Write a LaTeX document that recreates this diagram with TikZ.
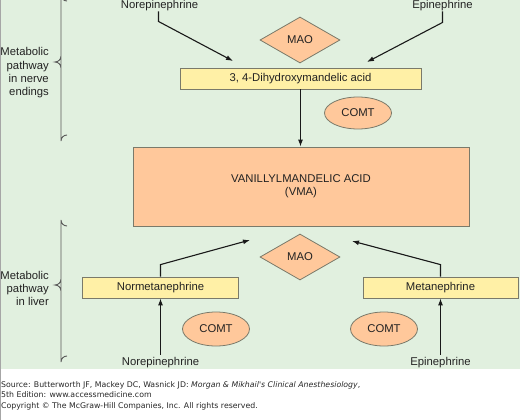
\documentclass[tikz,border=0pt]{standalone}
\usepackage{fontspec}
\setmainfont{Liberation Sans}
\newfontfamily\footfont{DejaVu Sans}
\usetikzlibrary{shapes.geometric,arrows.meta}
\definecolor{bggreen}{HTML}{E1F0DF}
\definecolor{boxyellow}{HTML}{FFF0A6}
\definecolor{boxorange}{HTML}{FFC89B}
\definecolor{edgegray}{HTML}{7A7A6A}
\definecolor{txt}{HTML}{222222}
\begin{document}
\begin{tikzpicture}[x=1pt,y=-1pt,
  every node/.style={font=\fontsize{11.3}{13.3}\selectfont, text=txt},
  ybox/.style={draw=edgegray, fill=boxyellow, line width=0.8pt, minimum height=21pt, inner sep=0pt},
  obox/.style={draw=edgegray, fill=boxorange, line width=0.8pt, inner sep=0pt},
  maodia/.style={diamond, draw=edgegray, fill=boxorange, line width=0.8pt, inner sep=0pt, aspect=1.74, minimum width=80pt, minimum height=46pt},
  comtell/.style={ellipse, draw=edgegray, fill=boxorange, line width=0.8pt, inner sep=0pt, minimum width=67pt, minimum height=32pt},
  lbl/.style={inner sep=0pt},
  side/.style={align=right, inner sep=0pt, anchor=east},
  conn/.style={draw=black!90, line width=1.1pt, -{Latex[length=7pt,width=5pt]}},
  brace/.style={draw=black!65, line width=0.9pt},
  foot/.style={font=\footfont\fontsize{7.8}{9}\selectfont, anchor=west, inner sep=0pt, text=black!85}]
\useasboundingbox (0,0) rectangle (520,420);
\fill[bggreen] (0,0) rectangle (520,369);
\draw[black!35, line width=0.8pt] (0.4,0) -- (0.4,420);

% top
\node[lbl] (norT) at (159.5,6) {Norepinephrine};
\node[lbl] (epiT) at (442.5,6) {Epinephrine};
\node[maodia] (maoT) at (300,40) {MAO};
\node[ybox, minimum width=241pt] (dhm) at (300.5,78.5) {3, 4-Dihydroxymandelic acid};
\node[comtell] (comtT) at (358,113) {COMT};
\node[obox, minimum width=336pt, minimum height=79pt, align=center] (vma) at (301,186.5) {VANILLYLMANDELIC ACID\\(VMA)};

% bottom
\node[maodia] (maoB) at (300,257) {MAO};
\node[ybox, minimum width=156pt] (normet) at (160.5,287.5) {Normetanephrine};
\node[ybox, minimum width=155pt] (metan) at (440.5,287.5) {Metanephrine};
\node[comtell, minimum height=34pt] (comtBL) at (216,329) {COMT};
\node[comtell, minimum height=34pt] (comtBR) at (384,329) {COMT};
\node[lbl] (norB) at (160.5,363) {Norepinephrine};
\node[lbl] (epiB) at (440.5,363) {Epinephrine};

% side labels
\node[side] (sideT) at (49,73) {Metabolic\\pathway\\in nerve\\endings};
\node[side] (sideB) at (49,288.5) {Metabolic\\pathway\\in liver};

% arrow ends
\coordinate (endNT) at (233,61);
\coordinate (endET) at (367,62);
\coordinate (endNB) at (250,240);
\coordinate (endMB) at (352,241);

\draw[conn] ([xshift=-1pt]norT.south) -- ++(0,10) -- (endNT);
\draw[conn] (epiT.south) -- ++(0,11) -- (endET);
\draw[conn] (dhm.south) -- (dhm.south |- vma.north);
\draw[conn] (normet.north) -- ++(0,-12) -- (endNB);
\draw[conn] (metan.north) -- ++(0,-12) -- (endMB);
\draw[conn] ([yshift=3pt]norB.north) -- (normet.south);
\draw[conn] ([yshift=3pt]epiB.north) -- (metan.south);

% braces
\draw[brace] (67,1) arc[start angle=90, end angle=180, radius=6] -- (61,68)
  arc[start angle=0, end angle=-90, radius=6] arc[start angle=90, end angle=0, radius=6]
  -- (61,141) arc[start angle=180, end angle=270, radius=6];
\draw[brace] (67,226) arc[start angle=90, end angle=180, radius=6] -- (61,291)
  arc[start angle=0, end angle=-90, radius=6] arc[start angle=90, end angle=0, radius=6]
  -- (61,362) arc[start angle=180, end angle=270, radius=6];

% footer
\node[foot] (src1) at (1,385) {Source: Butterworth JF, Mackey DC, Wasnick JD: \textit{Morgan \& Mikhail's Clinical Anesthesiology},};
\node[foot] (src2) at (1,394.5) {5th Edition: www.accessmedicine.com};
\node[foot] (copy) at (1,406) {Copyright © The McGraw-Hill Companies, Inc. All rights reserved.};
\end{tikzpicture}
\end{document}
